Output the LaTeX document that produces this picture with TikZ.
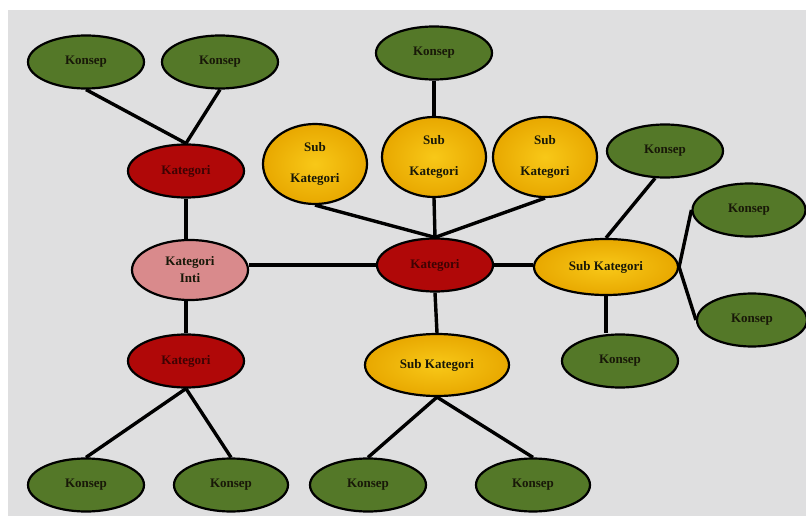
\documentclass[tikz,border=0pt]{standalone}
\usepackage{fontspec}
\setmainfont{Liberation Serif}
\usetikzlibrary{shapes.geometric}
\definecolor{bgc}{HTML}{DFDFE0}
\definecolor{grn}{HTML}{547828}
\definecolor{redc}{HTML}{B00808}
\definecolor{yelin}{HTML}{F8C818}
\definecolor{yelout}{HTML}{E8A800}
\definecolor{pnk}{HTML}{D98A8C}
\definecolor{txtd}{HTML}{181808}
\definecolor{txtr}{HTML}{3E0303}
\begin{document}
\begin{tikzpicture}[x=1pt,y=-1pt,
  base/.style={ellipse,draw=black,line width=2.2pt,inner sep=0pt,
    font=\bfseries\fontsize{13}{15}\selectfont,align=center,text=txtd},
  konsep/.style={base,fill=grn,minimum width=116pt,minimum height=53pt},
  katbox/.style={base,fill=redc,text=txtr,minimum width=116pt,minimum height=53pt},
  subtall/.style={base,inner color=yelin,outer color=yelout,minimum width=104pt,minimum height=80pt},
  subwide/.style={base,inner color=yelin,outer color=yelout,minimum width=144pt,minimum height=56pt},
  intibox/.style={base,fill=pnk,minimum width=116pt,minimum height=60pt},
  link/.style={draw=black,line width=3.4pt}]
\useasboundingbox (0,0) rectangle (806,516);
\fill[white] (0,0) rectangle (806,516);
\fill[bgc] (8,10) rectangle (806,516);
% top left
\node[konsep] (k1) at (86,62) {Konsep};
\node[konsep] (k2) at (220,62) {Konsep};
\node[katbox] (katTL) at (186,171) {Kategori};
% center top
\node[konsep] (k3) at (434,53) {Konsep};
\node[subtall] (s1) at (315,164) {Sub\\[16pt]Kategori};
\node[subtall] (s2) at (434,157) {Sub\\[16pt]Kategori};
\node[subtall] (s3) at (545,157) {Sub\\[16pt]Kategori};
% middle row
\node[intibox] (inti) at (190,270) {Kategori\\[2pt]Inti};
\node[katbox] (katC) at (435,265) {Kategori};
\node[subwide] (sR) at (606,267) {Sub Kategori};
% right
\node[konsep] (kUR) at (665,151) {Konsep};
\node[konsep,minimum width=113pt] (kFR1) at (749,210) {Konsep};
\node[konsep,minimum width=110pt] (kFR2) at (752,320) {Konsep};
\node[konsep] (kR) at (620,361) {Konsep};
% lower
\node[katbox] (katLL) at (186,361) {Kategori};
\node[subwide,minimum height=62pt] (sC) at (437,365) {Sub Kategori};
\node[konsep] (kB1) at (86,485) {Konsep};
\node[konsep,minimum width=114pt] (kB2) at (231,485) {Konsep};
\node[konsep] (kB3) at (368,485) {Konsep};
\node[konsep,minimum width=114pt] (kB4) at (533,485) {Konsep};
% connectors
\draw[link] (k1.south) -- (katTL.north);
\draw[link] (k2.south) -- (katTL.north);
\draw[link] (katTL.south) -- (katTL.south |- inti.north);
\draw[link] (katLL.north |- inti.south) -- (katLL.north);
\draw[link] (katC.west) -- (katC.west -| inti.east);
\draw[link] (s1.south) -- (katC.north);
\draw[link] (s2.south) -- (katC.north);
\draw[link] (s3.south) -- (katC.north);
\draw[link] (k3.south) -- (s2.north);
\draw[link] (katC.east) -- (katC.east -| sR.west);
\draw[link] (katC.south) -- (sC.north);
\draw[link] (kUR.250) -- (sR.north);
\draw[link] (sR.east) -- (kFR1.west);
\draw[link] (sR.east) -- (kFR2.west);
\draw[link] (sR.south) -- (sR.south |- kR.north);
\draw[link] (katLL.south) -- (kB1.north);
\draw[link] (katLL.south) -- (kB2.north);
\draw[link] (sC.south) -- (kB3.north);
\draw[link] (sC.south) -- (kB4.north);
\end{tikzpicture}
\end{document}
